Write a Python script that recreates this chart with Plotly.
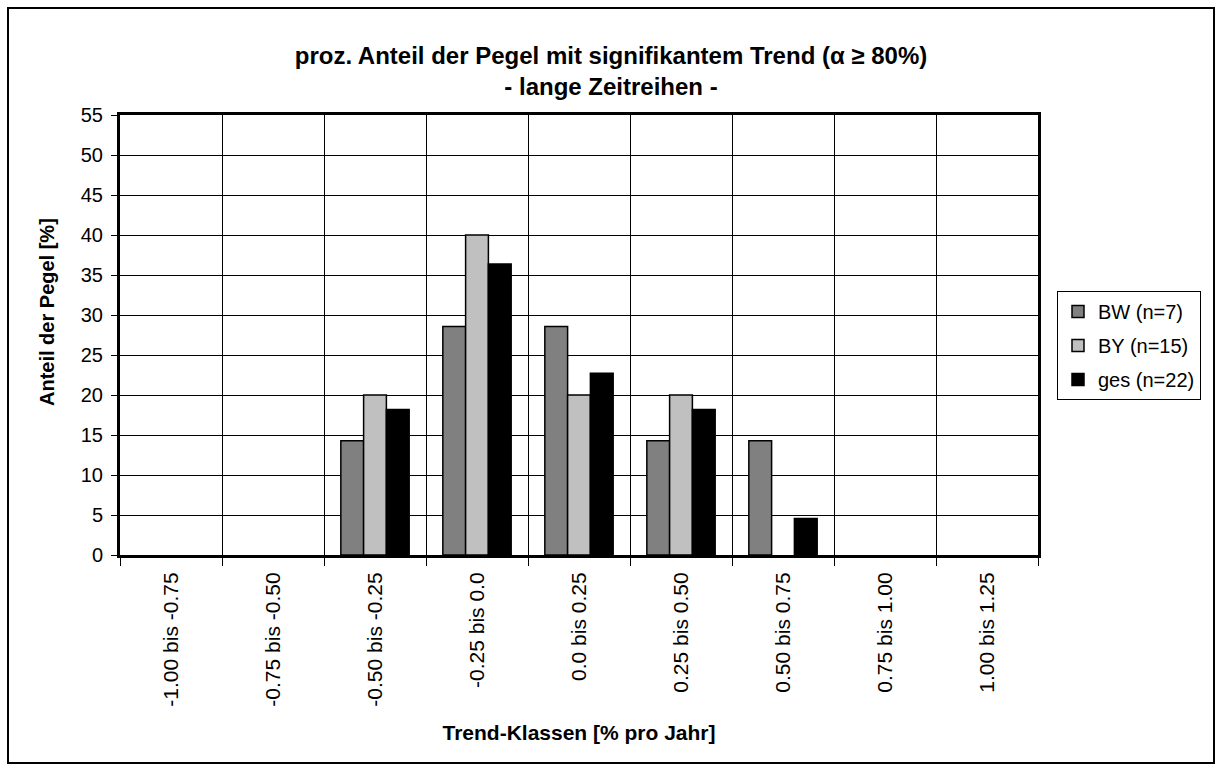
import plotly.graph_objects as go

categories = ["-1.00 bis -0.75", "-0.75 bis -0.50", "-0.50 bis -0.25", "-0.25 bis 0.0",
              "0.0 bis 0.25", "0.25 bis 0.50", "0.50 bis 0.75", "0.75 bis 1.00", "1.00 bis 1.25"]
bw = [0, 0, 14.29, 28.57, 28.57, 14.29, 14.29, 0, 0]
by = [0, 0, 20.0, 40.0, 20.0, 20.0, 0, 0, 0]
ges = [0, 0, 18.18, 36.36, 22.73, 18.18, 4.55, 0, 0]
series_names = ["BW (n=7)", "BY (n=15)", "ges (n=22)"]
colors = ["#808080", "#C0C0C0", "#000000"]

xpos = list(range(len(categories)))
boundaries = [i - 0.5 for i in range(len(categories) + 1)]

fig = go.Figure()
for i, (name, vals, col) in enumerate(zip(series_names, [bw, by, ges], colors)):
    fig.add_trace(go.Bar(x=xpos, y=[v if v > 0 else None for v in vals], name=name,
                         legendgroup=f"g{i}",
                         marker=dict(color=col, line=dict(color="black", width=1.5))))

W, H = 1222, 771
L, R, T, B = 120, 1038, 115, 555

def px2x(p):
    return (p - L) / (R - L)

def py2y(p):
    return (B - p) / (B - T)

fig.update_layout(
    width=W, height=H,
    margin=dict(l=L, r=W - R, t=T, b=H - B),
    paper_bgcolor="white", plot_bgcolor="white",
    font=dict(family="Liberation Sans, Arial, sans-serif", color="black", size=18),
    barmode="group", bargap=0.33, bargroupgap=0,
    title=dict(text="<b>proz. Anteil der Pegel mit signifikantem Trend (α ≥ 80%)<br>- lange Zeitreihen -</b>",
               x=0.5, xref="container", xanchor="center", y=1 - 64 / H, yanchor="middle",
               font=dict(size=24)),
    legend=dict(x=px2x(1057), y=py2y(291), xanchor="left", yanchor="top",
                bordercolor="black", borderwidth=1, font=dict(size=20),
                itemwidth=30, tracegroupgap=5, traceorder="grouped"),
    xaxis=dict(range=[-0.5, len(categories) - 0.5], tickmode="array", tickvals=xpos, ticktext=categories,
               tickangle=-90, ticks="", showgrid=False, tickfont=dict(size=21),
               ticklabelstandoff=6,
               showline=True, linewidth=3, linecolor="black", mirror=True,
               minor=dict(tickmode="array", tickvals=boundaries, ticks="outside", ticklen=8,
                          tickcolor="black", tickwidth=1, showgrid=True, gridcolor="black", gridwidth=1),
               title=dict(text="<b>Trend-Klassen [% pro Jahr]</b>", font=dict(size=21), standoff=20),
               zeroline=False),
    yaxis=dict(range=[0, 55], tickmode="linear", tick0=0, dtick=5, ticks="outside", ticklen=6,
               tickcolor="black", showgrid=True, gridcolor="black", gridwidth=1,
               showline=True, linewidth=3, linecolor="black", mirror=True, zeroline=False,
               tickfont=dict(size=20), ticklabelstandoff=4),
    annotations=[dict(text="<b>Anteil der Pegel [%]</b>", xref="paper", yref="paper",
                      x=px2x(47), y=py2y(312), xanchor="center", yanchor="middle",
                      textangle=-90, showarrow=False, font=dict(size=20))],
    shapes=[dict(type="rect", xref="paper", yref="paper",
                 x0=px2x(8), x1=px2x(1214), y0=py2y(763), y1=py2y(8),
                 line=dict(color="black", width=2), fillcolor="rgba(0,0,0,0)", layer="below")],
)

fig.write_html("out.html", config={"displayModeBar": False},
               post_script="document.body.style.margin='0px';")
